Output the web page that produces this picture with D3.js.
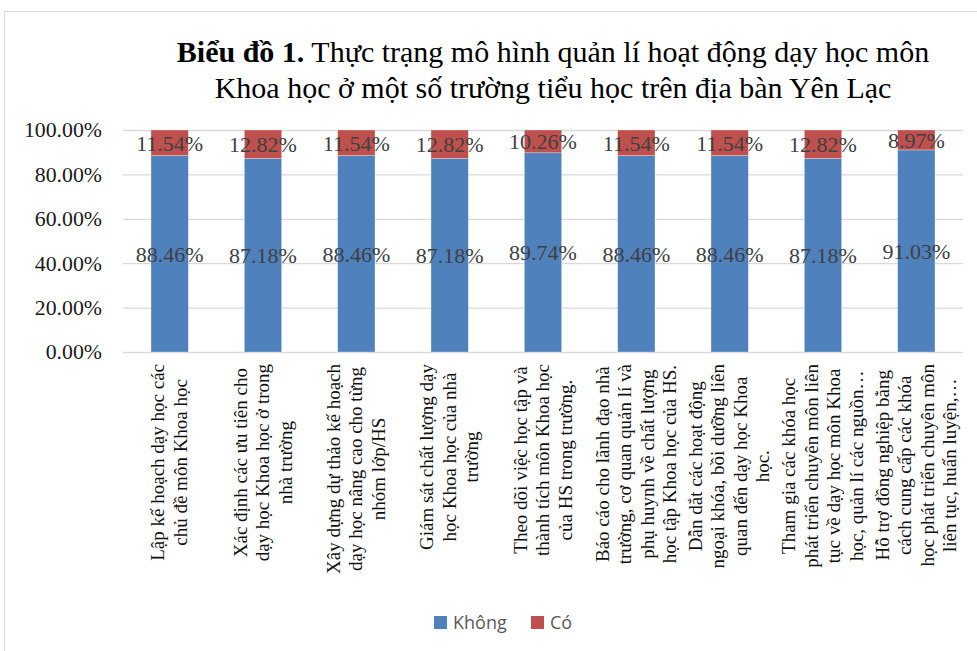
<!DOCTYPE html>
<html>
<head>
<meta charset="utf-8">
<script src="https://cdnjs.cloudflare.com/ajax/libs/d3/7.8.5/d3.min.js"></script>
<style>
  html, body { margin: 0; padding: 0; background: #fff; }
  svg { display: block; }
</style>
</head>
<body>
<svg id="chart" width="977" height="651"></svg>
<script>
const categories = [
  ["Lập kế hoạch dạy học các", "chủ đề môn Khoa học"],
  ["Xác định các ưu tiên cho", "dạy học Khoa học ở trong", "nhà trường"],
  ["Xây dựng dự thảo kế hoạch", "dạy học nâng cao cho từng", "nhóm lớp/HS"],
  ["Giám sát chất lượng dạy", "học Khoa học của nhà", "trường"],
  ["Theo dõi việc học tập và", "thành tích môn Khoa học", "của HS trong trường."],
  ["Báo cáo cho lãnh đạo nhà", "trường, cơ quan quản lí và", "phụ huynh về chất lượng", "học tập Khoa học của HS."],
  ["Dẫn dắt các hoạt động", "ngoại khóa, bồi dưỡng liên", "quan đến dạy học Khoa", "học."],
  ["Tham gia các khóa học", "phát triển chuyên môn liên", "tục về dạy học môn Khoa", "học, quản lí các nguồn…"],
  ["Hỗ trợ đồng nghiệp bằng", "cách cung cấp các khóa", "học phát triển chuyên môn", "liên tục, huấn luyện,…"]
];
const khong = [88.46, 87.18, 88.46, 87.18, 89.74, 88.46, 88.46, 87.18, 91.03];
const co    = [11.54, 12.82, 11.54, 12.82, 10.26, 11.54, 11.54, 12.82, 8.97];
const seriesNames = ["Không", "Có"];
const seriesColors = ["#4F81BD", "#C0504D"];
const yTicks = [0, 20, 40, 60, 80, 100];

const svg = d3.select("#chart");
const serif = "'Liberation Serif', 'Times New Roman', serif";

// chart border
svg.append("rect").attr("x", 4.5).attr("y", 11.5).attr("width", 1000).attr("height", 700)
  .attr("fill", "none").attr("stroke", "#D9D9D9").attr("stroke-width", 1);

const plot = {left: 123, right: 963, top: 130, bottom: 352};
const idx = d3.range(categories.length);
const x = d3.scaleBand().domain(idx).range([plot.left, plot.right]).paddingInner(0.6).paddingOuter(0.3);
const y = d3.scaleLinear().domain([0, 100]).range([plot.bottom, plot.top]);

// gridlines + y tick labels
const yAxis = d3.axisLeft(y).tickValues(yTicks).tickSize(-(plot.right - plot.left))
  .tickFormat(d => d.toFixed(2) + "%").tickPadding(21);
const gy = svg.append("g").attr("transform", `translate(${plot.left},0)`).call(yAxis);
gy.select(".domain").remove();
gy.selectAll(".tick line").attr("stroke", "#D9D9D9").attr("stroke-width", 1.3);
gy.selectAll(".tick text").attr("font-family", serif).attr("font-size", 21.8).attr("fill", "#1a1a1a");

// stacked data
const rows = idx.map(i => ({i, Không: khong[i], Có: co[i]}));
const stack = d3.stack().keys(seriesNames)(rows);

const layers = svg.append("g").selectAll("g").data(stack).join("g")
  .attr("fill", (d, k) => seriesColors[k]);
layers.selectAll("rect").data(d => d).join("rect")
  .attr("x", d => x(d.data.i))
  .attr("width", x.bandwidth())
  .attr("y", d => y(d[1]))
  .attr("height", d => y(d[0]) - y(d[1]))
  .attr("stroke", "#ffffff").attr("stroke-width", 0.6).attr("stroke-opacity", 0.5);

// data labels
const labels = svg.append("g");
stack.forEach((layer, k) => {
  labels.selectAll(null).data(layer).join("text")
    .attr("x", d => x(d.data.i) + x.bandwidth() / 2)
    .attr("y", d => y((d[0] + d[1]) / 2))
    .attr("dy", "0.35em")
    .attr("text-anchor", "middle")
    .attr("font-family", serif).attr("font-size", 22)
    .attr("fill", "#404040")
    .text(d => (d[1] - d[0]).toFixed(2) + "%");
});

// x labels (rotated, multi-line, centred lines)
const lineGap = 22.5;
const xl = svg.append("g");
categories.forEach((lines, i) => {
  const cx = x(i) + x.bandwidth() / 2;
  const g = xl.append("g");
  const n = lines.length;
  const texts = lines.map((t, j) => g.append("text")
    .attr("font-family", serif).attr("font-size", 19)
    .attr("fill", "#111")
    .attr("text-anchor", "middle")
    .text(t));
  const maxLen = d3.max(texts, t => t.node().getComputedTextLength());
  const cy = 364 + maxLen / 2;
  texts.forEach((t, j) => {
    const lx = cx + (j - (n - 1) / 2) * lineGap;
    t.attr("transform", `translate(${lx + 6},${cy}) rotate(-90)`);
  });
});

// title
const title = svg.append("text").attr("text-anchor", "middle")
  .attr("font-family", serif).attr("font-size", 30).attr("fill", "#000");
const t1 = title.append("tspan").attr("x", 553).attr("y", 62);
t1.append("tspan").attr("font-weight", "bold").text("Biểu đồ 1.");
t1.append("tspan").text(" Thực trạng mô hình quản lí hoạt động dạy học môn");
title.append("tspan").attr("x", 553).attr("y", 98).text("Khoa học ở một số trường tiểu học trên địa bàn Yên Lạc");

// legend
const legend = svg.append("g");
const legendItems = [{name: seriesNames[0], color: seriesColors[0], x: 434}, {name: seriesNames[1], color: seriesColors[1], x: 531}];
legendItems.forEach(it => {
  legend.append("rect").attr("x", it.x).attr("y", 616).attr("width", 13).attr("height", 13).attr("fill", it.color);
  legend.append("text").attr("x", it.x + 19).attr("y", 629)
    .attr("font-family", "'Open Sans', 'Noto Sans', sans-serif").attr("font-size", 18)
    .attr("fill", "#595959").text(it.name);
});
</script>
</body>
</html>
